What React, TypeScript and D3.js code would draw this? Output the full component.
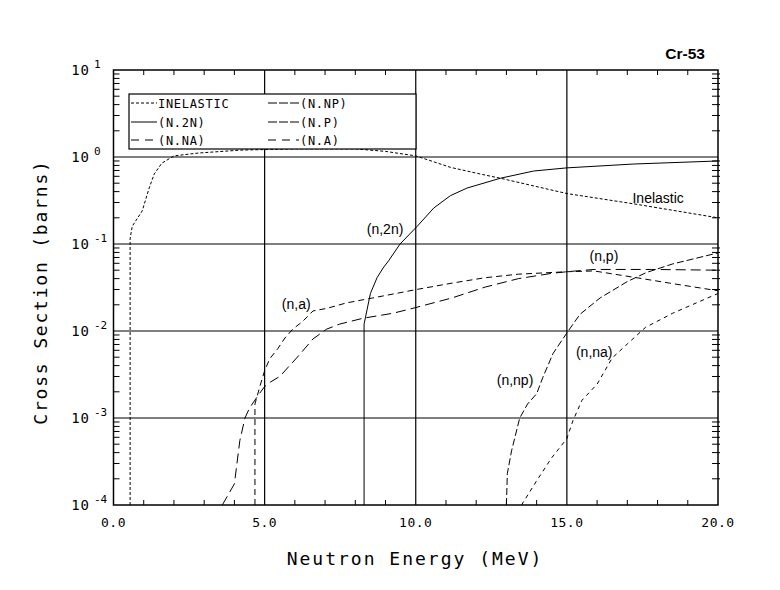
import * as React from 'react';
import * as d3 from 'd3';

// cross sections: [energy MeV, barns]
const inelasticData: [number, number][] = [
  [0.55, 1e-4], [0.55, 0.115], [0.62, 0.16], [0.95, 0.24], [1.18, 0.44], [1.35, 0.64],
  [1.6, 0.85], [2.0, 1.03], [2.8, 1.11], [4.2, 1.2], [6.0, 1.24], [8.0, 1.24],
  [9.0, 1.16], [10.0, 1.03], [10.6, 0.88], [11.15, 0.76], [12.2, 0.63], [12.8, 0.57],
  [15.0, 0.38], [17.2, 0.29], [20.0, 0.2],
];
const n2nData: [number, number][] = [
  [8.29, 1e-4], [8.29, 0.012], [8.5, 0.027], [8.72, 0.041], [8.92, 0.053], [9.1, 0.064],
  [9.48, 0.1], [10.05, 0.16], [10.6, 0.26], [11.15, 0.36], [11.7, 0.44], [12.8, 0.57],
  [13.9, 0.69], [15.0, 0.75], [17.2, 0.83], [20.0, 0.9],
];
const nnaData: [number, number][] = [
  [13.5, 1e-4], [14.0, 1.9e-4], [14.5, 3.5e-4], [15.0, 5.8e-4], [15.2, 9.3e-4], [15.5, 1.6e-3],
  [16.0, 2.45e-3], [16.5, 4.9e-3], [17.0, 7.1e-3], [17.6, 0.011], [18.5, 0.016], [20.0, 0.027],
];
const nnpData: [number, number][] = [
  [13.0, 1e-4], [13.03, 2.3e-4], [13.17, 4.2e-4], [13.44, 1e-3], [13.7, 1.45e-3], [14.0, 1.9e-3],
  [14.2, 2.9e-3], [14.54, 5.5e-3], [15.0, 9.5e-3], [15.43, 0.0155], [16.1, 0.024], [17.0, 0.037],
  [17.63, 0.047], [18.5, 0.059], [20.0, 0.079],
];
const npData: [number, number][] = [
  [3.6, 1e-4], [4.0, 1.75e-4], [4.18, 5.5e-4], [4.35, 1e-3], [4.5, 1.3e-3], [4.8, 1.85e-3],
  [5.0, 2.3e-3], [5.2, 2.6e-3], [5.5, 3.0e-3], [6.06, 4.9e-3], [6.6, 8.1e-3], [7.05, 0.0105],
  [7.48, 0.012], [8.25, 0.014], [9.25, 0.016], [10.0, 0.0186], [11.2, 0.024], [12.3, 0.032],
  [13.4, 0.04], [14.5, 0.046], [15.0, 0.048], [15.9, 0.051], [17.8, 0.051], [20.0, 0.05],
];
const naData: [number, number][] = [
  [4.68, 1e-4], [4.68, 1.45e-3], [4.85, 2.35e-3], [5.0, 3.5e-3], [5.17, 4.8e-3], [5.44, 6.3e-3],
  [5.67, 8.3e-3], [5.93, 0.0105], [6.26, 0.0129], [6.6, 0.017], [7.06, 0.0182], [7.7, 0.021],
  [8.58, 0.024], [10.03, 0.03], [11.2, 0.0355], [12.3, 0.041], [13.4, 0.045], [15.0, 0.048],
  [15.9, 0.049], [17.3, 0.041], [18.4, 0.0355], [20.0, 0.029],
];

const xTickValues = [0, 5, 10, 15, 20];
const xTickLabels = ['0.0', '5.0', '10.0', '15.0', '20.0'];
const yDecades = [-4, -3, -2, -1, 0, 1];
const legendLabels = ['INELASTIC', '(N.2N)', '(N.NA)', '(N.NP)', '(N.P)', '(N.A)'];

// curve labels: text, energy and cross section at the text's baseline start
const curveLabels: [string, number, number][] = [
  ['Inelastic', 17.17, 0.296],
  ['(n,2n)', 8.38, 0.132],
  ['(n,a)', 5.57, 0.0178],
  ['(n,p)', 15.75, 0.063],
  ['(n,np)', 12.68, 0.0024],
  ['(n,na)', 15.3, 0.005],
];

const series = [
  { data: inelasticData, dash: '3,2', legendDash: '3,2' },
  { data: n2nData, dash: null, legendDash: null },
  { data: nnaData, dash: '4,4', legendDash: '8,6' },
  { data: nnpData, dash: '7,3', legendDash: '9,2' },
  { data: npData, dash: '10,5', legendDash: '9,2' },
  { data: naData, dash: '6,4', legendDash: '8,6' },
];

const W = 780;
const H = 590;
const L = 113.5, R = 718, T = 70, B = 505;
const mono = '"DejaVu Sans Mono", monospace';
const sans = '"Liberation Sans", Arial, sans-serif';

export default function App() {
  const x = d3.scaleLinear().domain([0, 20]).range([L, R]);
  const y = d3.scaleLog().domain([1e-4, 10]).range([B, T]);
  const line = d3.line<[number, number]>().x((d) => x(d[0])).y((d) => y(d[1]));

  const minorX = d3.range(1, 20).filter((v) => v % 5 !== 0);
  const minorY: number[] = [];
  yDecades.slice(0, -1).forEach((p) => {
    for (let k = 2; k <= 9; k++) minorY.push(k * Math.pow(10, p));
  });

  const legX = [129, 416];
  const legY = [94, 149];
  const rowY = [103, 122, 140];
  const col = [{ x0: 131, x1: 157, tx: 158 }, { x0: 268, x1: 299, tx: 300 }];

  return (
    <div style={{ position: 'absolute', left: 0, top: 0 }}>
      <svg width={W} height={H} style={{ display: 'block', background: '#fff' }}>
        <defs>
          <clipPath id="plot">
            <rect x={L} y={T} width={R - L} height={B - T} />
          </clipPath>
        </defs>
        <rect width={W} height={H} fill="#fff" />

        {/* grid */}
        {xTickValues.slice(1, -1).map((v) => (
          <line key={'gx' + v} x1={x(v)} x2={x(v)} y1={T} y2={B} stroke="#000" strokeWidth={1.2} />
        ))}
        {yDecades.slice(1, -1).map((p) => (
          <line key={'gy' + p} x1={L} x2={R} y1={y(Math.pow(10, p))} y2={y(Math.pow(10, p))} stroke="#000" strokeWidth={1.2} />
        ))}

        {/* minor ticks */}
        {minorX.map((v) => (
          <g key={'mx' + v} stroke="#000" strokeWidth={1}>
            <line x1={x(v)} x2={x(v)} y1={B} y2={B - 5} />
            <line x1={x(v)} x2={x(v)} y1={T} y2={T + 5} />
          </g>
        ))}
        {minorY.map((v, i) => (
          <g key={'my' + i} stroke="#000" strokeWidth={1}>
            <line x1={L} x2={L + 6} y1={y(v)} y2={y(v)} />
            <line x1={R - 6} x2={R + 2} y1={y(v)} y2={y(v)} />
          </g>
        ))}

        {/* curves */}
        <g clipPath="url(#plot)" fill="none" stroke="#000" strokeWidth={1}>
          {series.map((s, i) => (
            <path key={i} d={line(s.data) || ''} strokeDasharray={s.dash || undefined} />
          ))}
        </g>

        {/* frame */}
        <rect x={L} y={T} width={R - L} height={B - T} fill="none" stroke="#000" strokeWidth={1.5} />

        {/* legend */}
        <rect x={legX[0]} y={legY[0]} width={legX[1] - legX[0]} height={legY[1] - legY[0]} fill="#fff" stroke="#000" strokeWidth={1.2} />
        {legendLabels.map((lab, i) => {
          const c = col[Math.floor(i / 3)];
          const ry = rowY[i % 3];
          const s = series[i];
          return (
            <g key={lab}>
              <line x1={c.x0} x2={c.x1} y1={ry} y2={ry} stroke="#000" strokeWidth={1} strokeDasharray={s.legendDash || undefined} />
              <text x={c.tx} y={ry + 4.5} fontFamily={mono} fontSize={12} letterSpacing={0.7}>{lab}</text>
            </g>
          );
        })}

        {/* curve labels */}
        {curveLabels.map(([t, e, v]) => (
          <text key={t} x={x(e)} y={y(v)} fontFamily={sans} fontSize={14}>{t}</text>
        ))}

        {/* x tick labels */}
        {xTickValues.map((v, i) => (
          <text key={'xl' + v} x={x(v)} y={527} textAnchor="middle" fontFamily={mono} fontSize={13} letterSpacing={0.5}>
            {xTickLabels[i]}
          </text>
        ))}

        {/* y tick labels */}
        {yDecades.map((p) => (
          <g key={'yl' + p}>
            <text x={90} y={y(Math.pow(10, p)) + 5} textAnchor="end" fontFamily={mono} fontSize={14} letterSpacing={1}>10</text>
            <text x={94} y={y(Math.pow(10, p)) - 2} fontFamily={mono} fontSize={11}>{p === 0 ? '0' : p === 1 ? '1' : '-' + Math.abs(p)}</text>
          </g>
        ))}

        {/* axis titles */}
        <text x={415} y={565} textAnchor="middle" fontFamily={mono} fontSize={18} letterSpacing={2}>Neutron Energy (MeV)</text>
        <text transform="translate(47,292) rotate(-90)" textAnchor="middle" fontFamily={mono} fontSize={18} letterSpacing={1.8}>Cross Section (barns)</text>

        {/* title */}
        <text x={705} y={59} textAnchor="end" fontFamily={sans} fontWeight="bold" fontSize={15.5}>Cr-53</text>
      </svg>
    </div>
  );
}
